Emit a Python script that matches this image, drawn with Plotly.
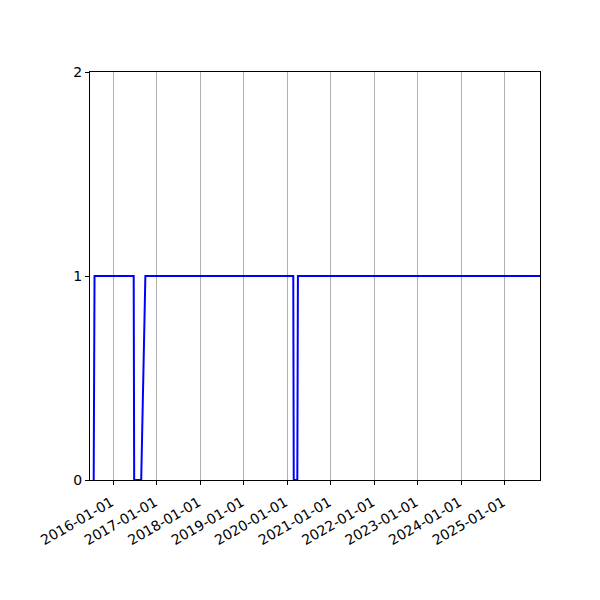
import plotly.graph_objects as go

# status series (0/1)
dates = ['2015-07-20', '2015-07-27', '2016-06-20', '2016-06-24', '2016-08-22',
         '2016-09-26', '2020-02-20', '2020-02-24', '2020-03-25', '2020-03-30',
         '2025-10-23']
values = [0, 1, 1, 0, 0, 1, 1, 0, 0, 1, 1]

years = list(range(2016, 2026))
tick_dates = ['%d-01-01' % y for y in years]
tick_labels = tick_dates

fig = go.Figure(go.Scatter(
    x=dates, y=values, mode='lines',
    line=dict(color='#0000ff', width=2),
))

# page body adds an 8px offset, margins compensate for it
fig.update_layout(
    width=600, height=600,
    margin=dict(l=82, r=68, t=64, b=128, autoexpand=False),
    plot_bgcolor='white', paper_bgcolor='white',
    showlegend=False,
    font=dict(family='DejaVu Sans', size=14, color='black'),
)

fig.update_xaxes(
    range=['2015-06-19', '2025-10-23'],
    tickvals=tick_dates, ticktext=tick_labels, tickangle=-30,
    ticks='outside', ticklen=4, tickcolor='black',
    ticklabelstandoff=4, ticklabelshift=-2,
    showgrid=True, gridcolor='#b0b0b0', gridwidth=1,
    showline=True, linecolor='black', linewidth=1, mirror=True,
    zeroline=False, automargin=False,
)
fig.update_yaxes(
    range=[0, 2], tickvals=[0, 1, 2],
    ticks='outside', ticklen=4, tickcolor='black',
    showgrid=False,
    showline=True, linecolor='black', linewidth=1, mirror=True,
    zeroline=False, automargin=False,
)

fig.write_html("out.html")
